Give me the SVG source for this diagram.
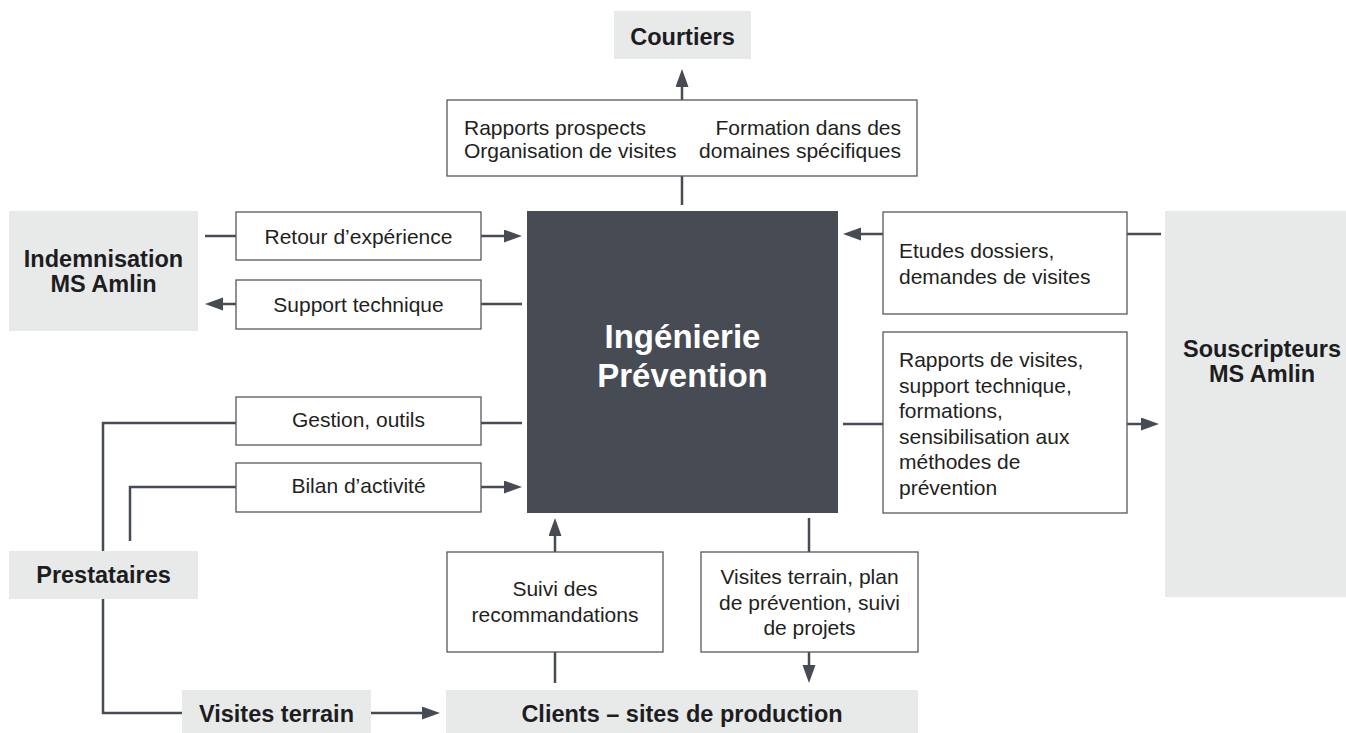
<svg xmlns="http://www.w3.org/2000/svg" width="1346" height="733" viewBox="0 0 1346 733">
<defs>
<style>
.g{fill:#e8e9e9}
.lb{fill:#ffffff;stroke:#55585e;stroke-width:1.3}
.m{fill:#474b54}
.c{stroke:#474b53;stroke-width:2.5;fill:none}
.t{font-family:"Liberation Sans",Arial,Helvetica,sans-serif;font-size:21px;fill:#231f20}
.b{font-weight:bold;font-size:23.5px;fill:#1d1d1f}
.w{font-family:"Liberation Sans",Arial,Helvetica,sans-serif;font-weight:bold;font-size:33px;fill:#ffffff}
.mid{text-anchor:middle}
.end{text-anchor:end}
</style>
<marker id="ah" markerUnits="userSpaceOnUse" markerWidth="19" markerHeight="14" refX="8" refY="6.5" orient="auto">
<path d="M0,0 L18,6.5 L0,13 Z" fill="#474b53"/>
</marker>
</defs>
<rect width="1346" height="733" fill="#ffffff"/>

<g id="connectors">
<path class="c" d="M682 205 V176"/>
<path class="c" d="M682 100 V79" marker-end="url(#ah)"/>
<path class="c" d="M205 236 H236"/>
<path class="c" d="M481 236 H512" marker-end="url(#ah)"/>
<path class="c" d="M522 304 H481"/>
<path class="c" d="M236 304 H215" marker-end="url(#ah)"/>
<path class="c" d="M522 423 H481"/>
<path class="c" d="M236 423 H103 V551"/>
<path class="c" d="M103 599 V713 H182"/>
<path class="c" d="M130 541 V487 H236"/>
<path class="c" d="M481 487 H512" marker-end="url(#ah)"/>
<path class="c" d="M371 713 H430" marker-end="url(#ah)"/>
<path class="c" d="M555 683 V652"/>
<path class="c" d="M555 552 V528" marker-end="url(#ah)"/>
<path class="c" d="M809 518 V552"/>
<path class="c" d="M809 652 V673" marker-end="url(#ah)"/>
<path class="c" d="M1161 234 H1127"/>
<path class="c" d="M883 234 H853" marker-end="url(#ah)"/>
<path class="c" d="M843 424 H883"/>
<path class="c" d="M1127 424 H1149" marker-end="url(#ah)"/>
</g>

<g id="courtiers">
<rect class="g" x="614" y="11" width="137" height="48"/>
<text class="t b mid" x="682.5" y="45">Courtiers</text>
</g>

<g id="label-courtiers">
<rect class="lb" x="447" y="100" width="470" height="76"/>
<text class="t" x="464" y="135">Rapports prospects</text>
<text class="t" x="464" y="158">Organisation de visites</text>
<text class="t end" x="901" y="135">Formation dans des</text>
<text class="t end" x="901" y="158">domaines spécifiques</text>
</g>

<g id="ingenierie">
<rect class="m" x="527" y="211" width="311" height="302"/>
<text class="w mid" x="682.5" y="348">Ingénierie</text>
<text class="w mid" x="682.5" y="387">Prévention</text>
</g>

<g id="indemnisation">
<rect class="g" x="9" y="211" width="189" height="120"/>
<text class="t b mid" x="103.5" y="267">Indemnisation</text>
<text class="t b mid" x="103.5" y="292">MS Amlin</text>
</g>

<g id="retour">
<rect class="lb" x="236" y="212" width="245" height="48"/>
<text class="t mid" x="358.5" y="244">Retour d’expérience</text>
</g>

<g id="support">
<rect class="lb" x="236" y="280" width="245" height="49"/>
<text class="t mid" x="358.5" y="312">Support technique</text>
</g>

<g id="gestion">
<rect class="lb" x="236" y="397" width="245" height="48"/>
<text class="t mid" x="358.5" y="427">Gestion, outils</text>
</g>

<g id="bilan">
<rect class="lb" x="236" y="463" width="245" height="49"/>
<text class="t mid" x="358.5" y="493">Bilan d’activité</text>
</g>

<g id="prestataires">
<rect class="g" x="9" y="551" width="189" height="48"/>
<text class="t b mid" x="103.5" y="583">Prestataires</text>
</g>

<g id="visites-terrain">
<rect class="g" x="182" y="690" width="189" height="43"/>
<text class="t b mid" x="276.5" y="722">Visites terrain</text>
</g>

<g id="clients">
<rect class="g" x="446" y="690" width="472" height="43"/>
<text class="t b mid" x="682" y="722">Clients – sites de production</text>
</g>

<g id="suivi">
<rect class="lb" x="447" y="552" width="216" height="100"/>
<text class="t mid" x="555" y="596">Suivi des</text>
<text class="t mid" x="555" y="622">recommandations</text>
</g>

<g id="visites-plan">
<rect class="lb" x="701" y="552" width="217" height="100"/>
<text class="t mid" x="809.5" y="584">Visites terrain, plan</text>
<text class="t mid" x="809.5" y="609.5">de prévention, suivi</text>
<text class="t mid" x="809.5" y="635">de projets</text>
</g>

<g id="etudes">
<rect class="lb" x="883" y="212" width="244" height="102"/>
<text class="t" x="899" y="258">Etudes dossiers,</text>
<text class="t" x="899" y="284">demandes de visites</text>
</g>

<g id="rapports">
<rect class="lb" x="883" y="332" width="244" height="181"/>
<text class="t" x="899" y="367">Rapports de visites,</text>
<text class="t" x="899" y="392.5">support technique,</text>
<text class="t" x="899" y="418">formations,</text>
<text class="t" x="899" y="443.5">sensibilisation aux</text>
<text class="t" x="899" y="469">méthodes de</text>
<text class="t" x="899" y="494.5">prévention</text>
</g>

<g id="souscripteurs">
<rect class="g" x="1165" y="211" width="181" height="386"/>
<text class="t b mid" x="1262" y="357">Souscripteurs</text>
<text class="t b mid" x="1262" y="382">MS Amlin</text>
</g>
</svg>
